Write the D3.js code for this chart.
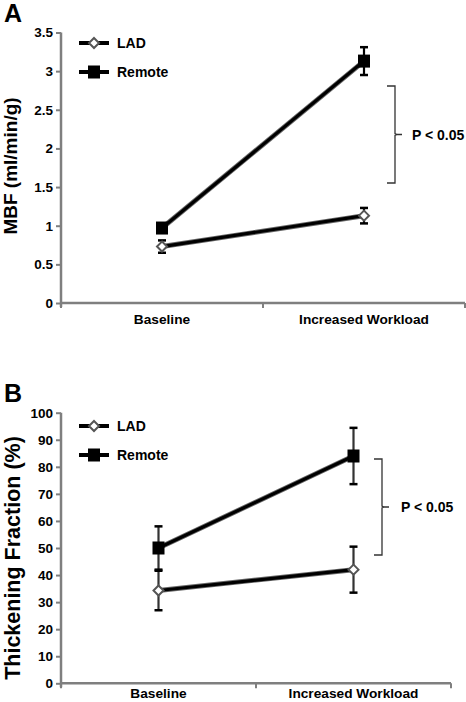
<!DOCTYPE html>
<html><head><meta charset="utf-8">
<script src="https://cdn.jsdelivr.net/npm/d3@7"></script>
<style>body{margin:0;background:#fff}svg{display:block;font-family:"Liberation Sans",Arial,sans-serif;font-weight:bold}</style>
</head><body>
<script>
const categories = ["Baseline", "Increased Workload"];
const seriesNames = ["LAD", "Remote"];
// Panel A: MBF (ml/min/g)
const mbfLAD = [0.73, 1.13];
const mbfLADErr = [0.08, 0.10];
const mbfRemote = [0.97, 3.13];
const mbfRemoteErr = [0.05, 0.18];
const mbfTicks = [0, 0.5, 1, 1.5, 2, 2.5, 3, 3.5];
// Panel B: Thickening Fraction (%)
const tfLAD = [34.3, 42];
const tfLADErr = [7.3, 8.5];
const tfRemote = [50, 84];
const tfRemoteErr = [8, 10.4];
const tfTicks = [0, 10, 20, 30, 40, 50, 60, 70, 80, 90, 100];

const svg = d3.select("body").append("svg").attr("width", 466).attr("height", 702);

function panel(cfg) {
  const g = svg.append("g");
  const x = d3.scaleBand().domain(categories).range([cfg.x0, cfg.x1]).padding(0);
  const y = d3.scaleLinear().domain(cfg.domain).range([cfg.yBottom, cfg.yTop]);
  const axisColor = "#7f7f7f";
  // y axis
  const ya = g.append("g").attr("transform", `translate(${cfg.x0},0)`)
    .call(d3.axisLeft(y).tickValues(cfg.ticks).tickSize(5).tickPadding(3).tickFormat(d => d3.format("")(d)));
  ya.select(".domain").attr("stroke", axisColor).attr("stroke-width", 2.5).attr("d", `M0,${cfg.yTop}V${cfg.yBottom+4}`);
  ya.selectAll(".tick line").attr("stroke", axisColor).attr("stroke-width", 2);
  ya.selectAll(".tick text").attr("fill", "#000").style("font-size", "13.5px").style("font-weight", "bold").style("font-family", "Liberation Sans, Arial, sans-serif");
  // x axis
  const xa = g.append("g").attr("transform", `translate(0,${cfg.yBottom})`);
  xa.append("line").attr("x1", cfg.x0).attr("x2", cfg.x1).attr("stroke", axisColor).attr("stroke-width", 2.5);
  [cfg.x0, cfg.x0 + x.bandwidth(), cfg.x1].forEach(t => {
    xa.append("line").attr("x1", t).attr("x2", t).attr("y1", 0).attr("y2", 5).attr("stroke", axisColor).attr("stroke-width", 2);
  });
  categories.forEach(c => {
    xa.append("text").attr("x", x(c) + x.bandwidth() / 2).attr("y", cfg.labelDy).attr("text-anchor", "middle")
      .style("font-size", "13.7px").text(c);
  });
  // y title
  g.append("text").attr("transform", `translate(${cfg.titleX},${cfg.titleY}) rotate(-90)`)
    .attr("text-anchor", "middle").style("font-size", cfg.titleSize).text(cfg.title);
  // panel letter
  g.append("text").attr("x", 4).attr("y", cfg.letterY).style("font-size", "25px").text(cfg.letter);

  const cx = c => x(c) + x.bandwidth() / 2;
  const line = d3.line().x((d, i) => cx(categories[i])).y(d => y(d));
  const series = [
    {name: "LAD", vals: cfg.lad, err: cfg.ladErr, marker: "diamond"},
    {name: "Remote", vals: cfg.remote, err: cfg.remoteErr, marker: "square"}
  ];
  // error bars
  series.forEach(s => {
    s.vals.forEach((v, i) => {
      const px = cx(categories[i]);
      g.append("line").attr("x1", px).attr("x2", px).attr("y1", y(v - s.err[i])).attr("y2", y(v + s.err[i]))
        .attr("stroke", cfg.errColor).attr("stroke-width", 2.2);
      [v - s.err[i], v + s.err[i]].forEach(e => {
        g.append("line").attr("x1", px - 4).attr("x2", px + 4).attr("y1", y(e)).attr("y2", y(e))
          .attr("stroke", "#000").attr("stroke-width", 2.5);
      });
    });
  });
  // lines
  series.forEach(s => {
    g.append("path").datum(s.vals).attr("d", line).attr("fill", "none").attr("stroke", "#666").attr("stroke-width", 5);
    g.append("path").datum(s.vals).attr("d", line).attr("fill", "none").attr("stroke", "#000").attr("stroke-width", 3.2);
  });
  function marker(sel, type, px, py) {
    if (type === "square") {
      sel.append("rect").attr("x", px - 6).attr("y", py - 6.5).attr("width", 12).attr("height", 13).attr("fill", "#000");
    } else {
      sel.append("path").attr("d", `M${px},${py-5}L${px+5},${py}L${px},${py+5}L${px-5},${py}Z`)
        .attr("fill", "#fff").attr("stroke", "#555").attr("stroke-width", 2);
    }
  }
  series.forEach(s => s.vals.forEach((v, i) => marker(g, s.marker, cx(categories[i]), y(v))));
  // legend
  series.forEach((s, k) => {
    const ly = cfg.legendY + k * cfg.legendGap;
    g.append("line").attr("x1", 79).attr("x2", 109).attr("y1", ly).attr("y2", ly).attr("stroke", "#000").attr("stroke-width", 4);
    marker(g, s.marker, 94, ly);
    g.append("text").attr("x", 117).attr("y", ly + 5).style("font-size", "14px").text(s.name);
  });
  // bracket
  const b = cfg.bracket;
  const m = (b.y0 + b.y1) / 2;
  g.append("path").attr("d", `M${b.x},${b.y0}H${b.x + 8}V${m - 1}L${b.x + 10},${m}H${b.x + 15}M${b.x + 10},${m}L${b.x + 8},${m + 1}V${b.y1}H${b.x}`)
    .attr("fill", "none").attr("stroke", "#333").attr("stroke-width", 1.3);
  g.append("text").attr("x", b.tx).attr("y", m + 5).style("font-size", "14px").text("P < 0.05");
}

panel({
  x0: 61, x1: 465, yTop: 32.5, yBottom: 303, domain: [0, 3.5], ticks: mbfTicks,
  lad: mbfLAD, ladErr: mbfLADErr, remote: mbfRemote, remoteErr: mbfRemoteErr,
  labelDy: 20.5, title: "MBF (ml/min/g)", titleX: 17, titleY: 166, titleSize: "19px", letter: "A", letterY: 22,
  legendY: 43, legendGap: 29, errColor: "#000",
  bracket: {x: 387, y0: 86, y1: 183, tx: 412}
});
panel({
  x0: 61, x1: 451, yTop: 412.7, yBottom: 683.3, domain: [0, 100], ticks: tfTicks,
  lad: tfLAD, ladErr: tfLADErr, remote: tfRemote, remoteErr: tfRemoteErr,
  labelDy: 14.5, title: "Thickening Fraction (%)", titleX: 19.5, titleY: 558, titleSize: "21.5px", letter: "B", letterY: 402,
  legendY: 426, legendGap: 29, errColor: "#333",
  bracket: {x: 374, y0: 459, y1: 555, tx: 401}
});
</script>
</body></html>
